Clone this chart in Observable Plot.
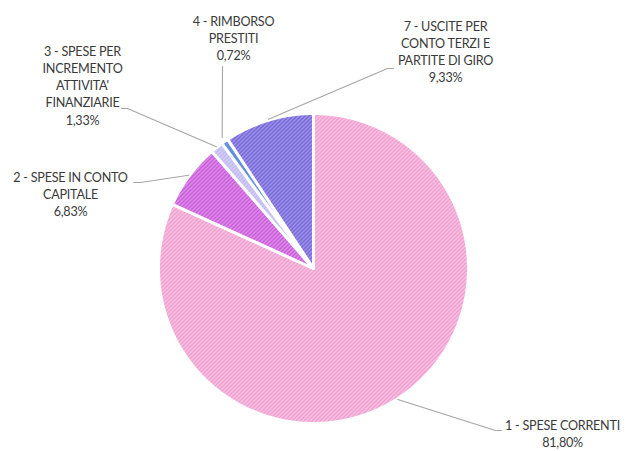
<!DOCTYPE html>
<html>
<head>
<meta charset="utf-8">
<script src="https://cdn.jsdelivr.net/npm/d3@7"></script>
<script src="https://cdn.jsdelivr.net/npm/@observablehq/plot@0.6"></script>
<style>
  html, body { margin: 0; padding: 0; background: #fff; }
  svg text { letter-spacing: -0.25px; }
</style>
</head>
<body>
<div id="chart"></div>
<script>
// ---- data ----
const categories = ["1 - SPESE CORRENTI", "2 - SPESE IN CONTO CAPITALE", "3 - SPESE PER INCREMENTO ATTIVITA' FINANZIARIE", "4 - RIMBORSO PRESTITI", "7 - USCITE PER CONTO TERZI E PARTITE DI GIRO"];
const values = [81.80, 6.83, 1.33, 0.72, 9.33];
const valueLabels = ["81,80%", "6,83%", "1,33%", "0,72%", "9,33%"];
const labelLines = [
  ["1 - SPESE CORRENTI"],
  ["2 - SPESE IN CONTO", "CAPITALE"],
  ["3 - SPESE PER", "INCREMENTO", "ATTIVITA'", "FINANZIARIE"],
  ["4 - RIMBORSO", "PRESTITI"],
  ["7 - USCITE PER", "CONTO TERZI E", "PARTITE DI GIRO"]
];
// label layout (chart units, pie centre = 0,0, radius = 155)
const labelX = [249, -243, -231, -80, 132];
const labelTopY = [-149, 99, 225, 255, 250];
const elbowX = [182, -173, -186, -91, 74];
const elbowY = [-162, 86, 160, 202, 200];
const endX = [188, -180, -192, -91, 80];
const endY = [-162, 86, 160, 202, 200];
const lineColors = ["#ef92ca", "#c34ad6", "#bdb5f2", "#5b8ce0", "#6a5ad6"];
const bgColors = ["#fcdcee", "#ebb2f2", "#dedaf9", "#6d98e4", "#b9b1f1"];

// ---- geometry ----
const W = 625, H = 451, CX = 313, CY = 268, R = 155;
const total = d3.sum(values);
let acc = 0;
const slices = values.map((v, i) => {
  const a0 = acc / total * 2 * Math.PI;
  acc += v;
  const a1 = acc / total * 2 * Math.PI;
  return {i, a0, a1, mid: (a0 + a1) / 2};
});
const polyPts = [];
slices.forEach(s => {
  polyPts.push({k: s.i, x: 0, y: 0});
  const n = Math.max(2, Math.ceil((s.a1 - s.a0) / (Math.PI / 360)));
  for (let j = 0; j <= n; j++) {
    const a = s.a0 + (s.a1 - s.a0) * j / n;
    polyPts.push({k: s.i, x: R * Math.sin(a), y: R * Math.cos(a)});
  }
});
const leaders = [];
slices.forEach(s => {
  const rr = s.i === 3 ? R * 1.03 : R * 1.005;
  leaders.push({k: s.i, x: rr * Math.sin(s.mid), y: rr * Math.cos(s.mid)});
  leaders.push({k: s.i, x: elbowX[s.i], y: elbowY[s.i]});
  leaders.push({k: s.i, x: endX[s.i], y: endY[s.i]});
});
const labels = categories.map((c, i) => ({
  x: labelX[i], y: labelTopY[i], text: labelLines[i].concat([valueLabels[i]]).join("\n")
}));

const FS = 12.6;
const plot = Plot.plot({
  width: W, height: H,
  margin: 0,
  x: {domain: [-CX, W - CX], axis: null},
  y: {domain: [-(H - CY), CY], axis: null},
  style: {background: "white", fontFamily: "Lato, 'Open Sans', sans-serif"},
  marks: [
    ...slices.map(s => Plot.line(polyPts.filter(p => p.k === s.i), {
      x: "x", y: "y", curve: "linear-closed",
      fill: `url(#pat${s.i})`, stroke: "white", strokeWidth: 3, strokeLinejoin: "round"
    })),
    Plot.line(leaders, {x: "x", y: "y", z: "k", stroke: "#a6a6a6", strokeWidth: 1.1}),
    Plot.text(labels, {
      x: "x", y: "y", text: "text", lineAnchor: "top", textAnchor: "middle",
      fontSize: FS, lineHeight: 17.2 / FS, fill: "#3a3a3a"
    })
  ]
});

// hatch patterns
const ns = "http://www.w3.org/2000/svg";
const defs = document.createElementNS(ns, "defs");
lineColors.forEach((lc, i) => {
  const p = document.createElementNS(ns, "pattern");
  p.setAttribute("id", "pat" + i);
  p.setAttribute("patternUnits", "userSpaceOnUse");
  p.setAttribute("width", 4); p.setAttribute("height", 4);
  const r = document.createElementNS(ns, "rect");
  r.setAttribute("width", 4); r.setAttribute("height", 4); r.setAttribute("fill", bgColors[i]);
  const path = document.createElementNS(ns, "path");
  path.setAttribute("d", "M-1,1 L1,-1 M0,4 L4,0 M3,5 L5,3");
  path.setAttribute("stroke", lc); path.setAttribute("stroke-width", 1.6);
  p.appendChild(r); p.appendChild(path);
  defs.appendChild(p);
});
plot.insertBefore(defs, plot.firstChild);
document.getElementById("chart").appendChild(plot);
</script>
</body>
</html>
